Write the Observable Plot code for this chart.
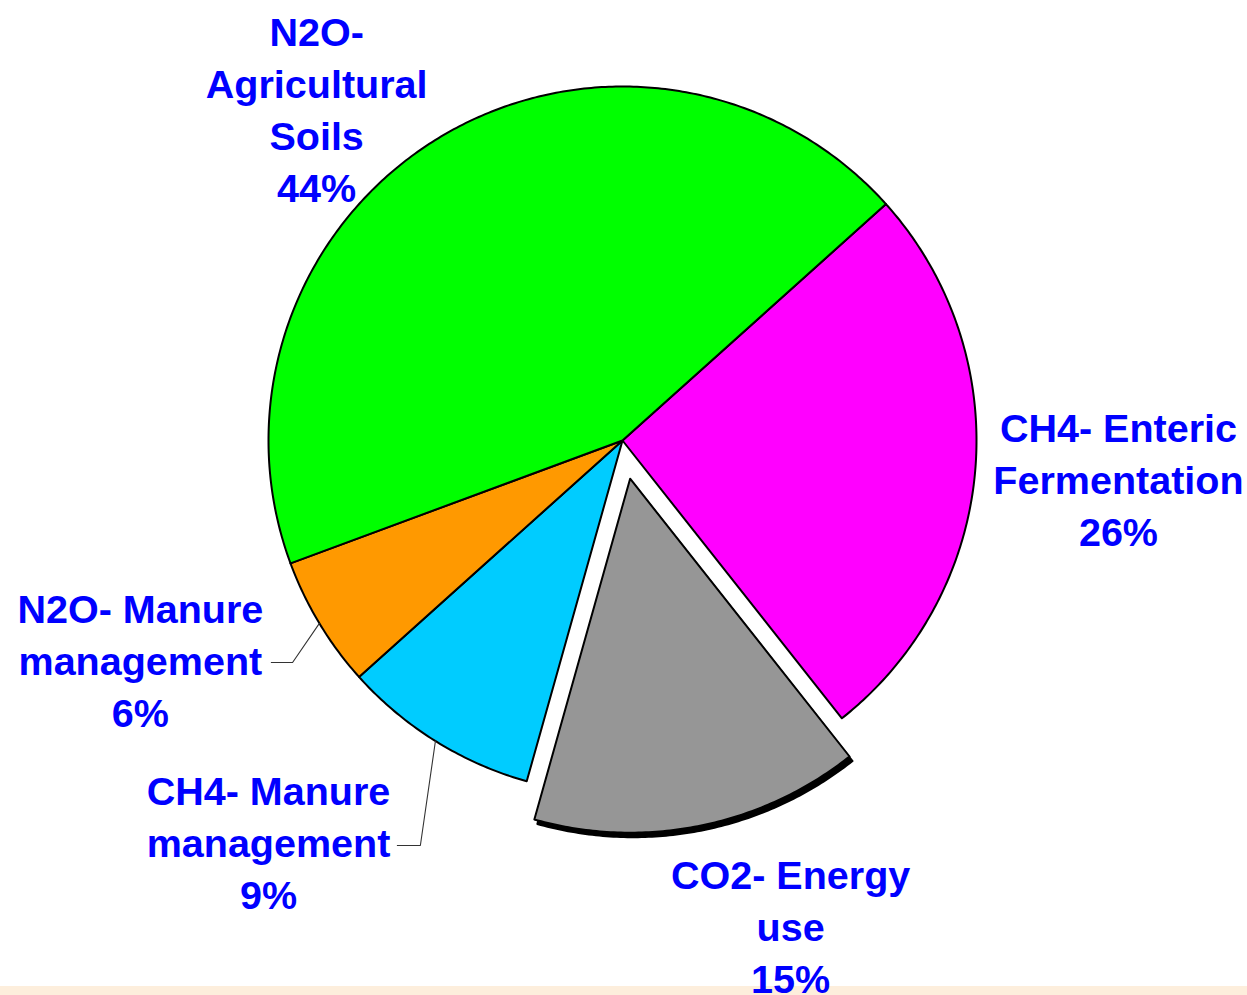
<!DOCTYPE html>
<html><head><meta charset="utf-8">
<script src="https://cdn.jsdelivr.net/npm/d3@7"></script>
<script src="https://cdn.jsdelivr.net/npm/@observablehq/plot@0.6"></script>
<style>
html,body{margin:0;padding:0;}
body{width:1247px;height:995px;overflow:hidden;background:linear-gradient(to bottom,#fff 0,#fff 986px,#fdeedc 986px);}
#chart svg{display:block;overflow:visible;background:transparent;}
</style></head><body><div id="chart"></div>
<script>
// ---- data ----
const categories = ["CH4- Enteric Fermentation", "CO2- Energy use", "CH4- Manure management", "N2O- Manure management", "N2O- Agricultural Soils"];
const labelLines = ["CH4- Enteric\nFermentation", "CO2- Energy\nuse", "CH4- Manure\nmanagement", "N2O- Manure\nmanagement", "N2O-\nAgricultural\nSoils"];
const shares = [26, 15, 9, 6, 44];

// ---- style / layout ----
const colors = ["#ff00ff", "#969696", "#00ccff", "#ff9900", "#00ff00"];
const W = 1247, H = 995, CX = 622, CY = 440, R = 354;
const startDeg = 48.1;
const explodeIdx = 1, explodeR = 0.11;
const labelPos = [[1.401, 0.103], [0.475, 1.368], [-1.0, 1.130], [-1.362, 0.616], [-0.864, -0.940]];
const leaderElbows = {2: [[-0.636, 1.144], [-0.571, 1.144]], 3: [[-0.992, 0.627], [-0.932, 0.627]]};

const a0 = startDeg * Math.PI / 180;
const arcs = d3.pie().sort(null).startAngle(a0).endAngle(a0 + 2 * Math.PI)(shares);

function slicePoly(a, ox, oy) {
  const pts = [{x: ox, y: oy}];
  const n = Math.max(8, Math.ceil((a.endAngle - a.startAngle) / 0.01));
  for (let k = 0; k <= n; k++) {
    const t = a.startAngle + (a.endAngle - a.startAngle) * k / n;
    pts.push({x: ox + Math.sin(t), y: oy - Math.cos(t)});
  }
  return pts;
}

const marks = [];
arcs.forEach((a, i) => {
  const mid = (a.startAngle + a.endAngle) / 2;
  const ex = i === explodeIdx ? explodeR : 0;
  const ox = ex * Math.sin(mid), oy = -ex * Math.cos(mid);
  if (i === explodeIdx) {
    marks.push(Plot.line(slicePoly(a, ox + 3 / R, oy + 4.5 / R), {x: "x", y: "y", fill: "black", stroke: "black", strokeWidth: 2, curve: "linear-closed"}));
  }
  marks.push(Plot.line(slicePoly(a, ox, oy), {x: "x", y: "y", fill: colors[i], stroke: "black", strokeWidth: 2, curve: "linear-closed"}));
  if (leaderElbows[i]) {
    const pts = leaderElbows[i].map(([x, y]) => ({x, y}));
    pts.push({x: Math.sin(mid), y: -Math.cos(mid)});
    marks.push(Plot.line(pts, {x: "x", y: "y", stroke: "#333", strokeWidth: 1.1}));
  }
});

const labels = arcs.map((a, i) => ({
  x: labelPos[i][0], y: labelPos[i][1],
  text: labelLines[i] + "\n" + shares[i] + "%"
}));
marks.push(Plot.text(labels, {
  x: "x", y: "y", text: "text", fill: "#0000ff", fontSize: 39.5, fontWeight: "bold",
  fontFamily: "'Liberation Sans', Arial, sans-serif", lineHeight: 1.316, textAnchor: "middle"
}));

const chart = Plot.plot({
  width: W, height: H,
  marginTop: 0, marginRight: 0, marginBottom: 0, marginLeft: 0,
  x: {domain: [-CX / R, (W - CX) / R], axis: null},
  y: {domain: [(H - CY) / R, -CY / R], axis: null},
  style: {background: "transparent", overflow: "visible"},
  marks
});
document.getElementById("chart").appendChild(chart);
</script>
</body></html>
